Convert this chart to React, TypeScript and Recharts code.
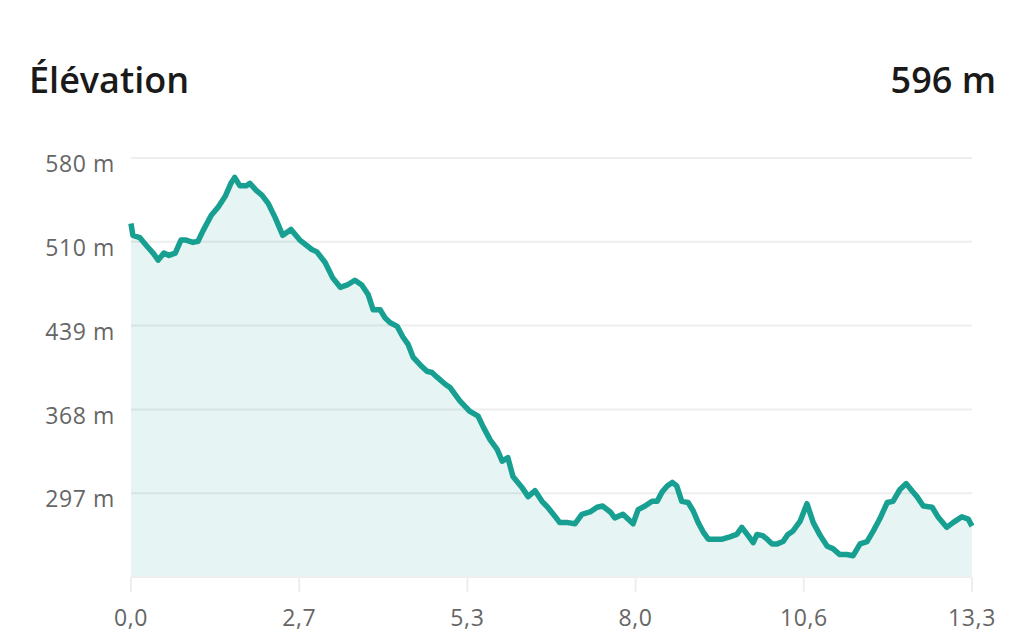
import { AreaChart, Area, XAxis, YAxis, CartesianGrid } from "recharts";

// distance (km) / elevation (m)
const distanceKm = [
  0, 0.03, 0.14, 0.25, 0.35, 0.43, 0.52, 0.6, 0.7, 0.79, 0.87, 0.98, 1.06, 1.14, 1.27, 1.38, 1.49, 1.58, 1.64, 1.72,
  1.83, 1.88, 1.98, 2.07, 2.17, 2.28, 2.4, 2.53, 2.67, 2.86, 2.94, 3.07, 3.19, 3.31, 3.42, 3.54, 3.65, 3.75, 3.83, 3.94,
  4.02, 4.1, 4.21, 4.3, 4.38, 4.46, 4.6, 4.68, 4.76, 4.84, 4.97, 5.05, 5.2, 5.36, 5.49, 5.57, 5.68, 5.79, 5.87, 5.96,
  6.04, 6.18, 6.28, 6.39, 6.5, 6.59, 6.71, 6.78, 6.91, 7.02, 7.13, 7.26, 7.37, 7.46, 7.58, 7.65, 7.78, 7.94, 8.02, 8.13,
  8.24, 8.32, 8.4, 8.48, 8.56, 8.63, 8.71, 8.81, 8.89, 8.97, 9.05, 9.13, 9.2, 9.35, 9.47, 9.58, 9.66, 9.76, 9.84, 9.9,
  9.99, 10.06, 10.14, 10.22, 10.31, 10.39, 10.47, 10.58, 10.69, 10.79, 10.9, 11.01, 11.1, 11.21, 11.32, 11.42, 11.53, 11.64, 11.74, 11.84,
  11.96, 12.05, 12.16, 12.26, 12.35, 12.43, 12.53, 12.67, 12.76, 12.9, 13.0, 13.14, 13.24, 13.3,
];
const elevationM = [
  525, 515, 513, 506, 500, 494, 500, 498, 500, 511, 511, 509, 510, 519, 532, 539, 548, 559, 564, 557,
  557, 559, 553, 549, 542, 530, 515, 520, 511, 503, 501, 492, 479, 471, 473, 477, 473, 465, 452, 452,
  445, 441, 438, 429, 423, 412, 404, 400, 399, 395, 389, 386, 375, 366, 362, 353, 342, 334, 324, 327,
  311, 302, 294, 299, 290, 285, 277, 272, 272, 271, 279, 281, 285, 286, 281, 276, 279, 271, 283, 286,
  290, 290, 298, 303, 306, 303, 290, 289, 282, 272, 264, 258, 258, 258, 260, 262, 268, 261, 255, 262,
  261, 258, 254, 254, 256, 262, 265, 273, 288, 272, 261, 252, 250, 245, 245, 244, 254, 256, 265, 275,
  289, 290, 300, 305, 299, 294, 286, 285, 277, 268, 272, 277, 275, 269,
];
const xTicks = [0, 2.66, 5.32, 7.98, 10.64, 13.3];
const yTicks = [296.88, 367.76, 438.64, 509.52, 580.4];

const data = distanceKm.map((km, i) => ({ km, ele: elevationM[i] }));

const FONT = "'Open Sans', sans-serif";
const TEAL = "#17a092";

const YTick = (props: any) => {
  const { x, y, payload } = props;
  return (
    <text x={x} y={y + 6} dy="0.355em" textAnchor="end" fill="#666" fontSize={23} letterSpacing={0.6} fontFamily={FONT}>
      {Math.round(payload.value)} m
    </text>
  );
};

const XTick = (props: any) => {
  const { x, payload } = props;
  return (
    <text x={x} y={618} dy="0.355em" textAnchor="middle" fill="#666" fontSize={23} letterSpacing={0.6} fontFamily={FONT}>
      {payload.value.toFixed(1).replace(".", ",")}
    </text>
  );
};

export default function App() {
  return (
    <div style={{ position: "absolute", left: 0, top: 0, width: 1024, height: 637, background: "#fff", fontFamily: FONT }}>
      <div style={{ position: "absolute", left: 29, top: 56, fontSize: 36, fontWeight: 600, color: "#1a1a1a", lineHeight: "48px" }}>
        Élévation
      </div>
      <div style={{ position: "absolute", right: 28, top: 56, fontSize: 36, fontWeight: 600, color: "#1a1a1a", lineHeight: "48px" }}>
        596 m
      </div>
      <AreaChart width={1024} height={637} data={data} margin={{ top: 158, right: 52, bottom: 0, left: 0 }}>
        <CartesianGrid vertical={false} stroke="#eeeeee" strokeWidth={2} />
        <XAxis
          type="number"
          dataKey="km"
          domain={[0, 13.3]}
          ticks={xTicks}
          height={60}
          axisLine={{ stroke: "#eeeeee", strokeWidth: 2 }}
          tickLine={{ stroke: "#eeeeee", strokeWidth: 2 }}
          tickSize={15}
          tick={<XTick />}
          interval={0}
        />
        <YAxis
          type="number"
          domain={[226, 580.4]}
          ticks={yTicks}
          width={131}
          axisLine={false}
          tickLine={false}
          tickSize={0}
          tickMargin={16}
          tick={<YTick />}
          interval={0}
        />
        <Area
          type="linear"
          dataKey="ele"
          stroke={TEAL}
          strokeWidth={5.5}
          strokeLinejoin="round"
          fill={TEAL}
          fillOpacity={0.11}
          isAnimationActive={false}
          dot={false}
          activeDot={false}
        />
      </AreaChart>
    </div>
  );
}
